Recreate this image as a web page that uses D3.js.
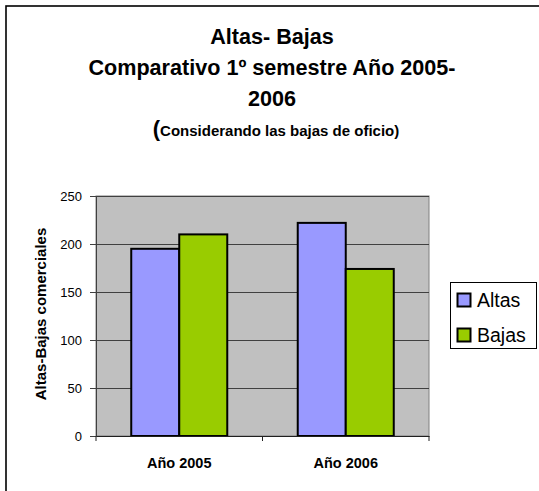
<!DOCTYPE html>
<html>
<head>
<meta charset="utf-8">
<script src="https://cdn.jsdelivr.net/npm/d3@7/dist/d3.min.js"></script>
<style>
  body { margin: 0; background: #fff; }
  text { font-family: Arial, "Liberation Sans", sans-serif; }
</style>
</head>
<body>
<script>
const categories = ["Año 2005", "Año 2006"];
const seriesNames = ["Altas", "Bajas"];
const altas = [195, 222];
const bajas = [210, 174];
const yTicks = [0, 50, 100, 150, 200, 250];
const titleLines = ["Altas- Bajas", "Comparativo 1º semestre Año 2005-", "2006"];
const subtitle = "Considerando las bajas de oficio)";
const yTitle = "Altas-Bajas comerciales";

const width = 539;
const height = 491;
const colors = { Altas: "#9999ff", Bajas: "#99cc00" };

const data = categories.map((c, i) => ({ cat: c, Altas: altas[i], Bajas: bajas[i] }));

const svg = d3.select("body").append("svg")
  .attr("width", width)
  .attr("height", height);

// outer frame (cut off on the right and bottom)
svg.append("rect")
  .attr("x", 6).attr("y", 6)
  .attr("width", 700).attr("height", 700)
  .attr("fill", "none")
  .attr("stroke", "#000")
  .attr("stroke-width", 1.6);

// titles
const titleY = [44, 75, 106];
svg.selectAll(".title")
  .data(titleLines)
  .enter().append("text")
  .attr("class", "title")
  .attr("x", 272)
  .attr("y", (d, i) => titleY[i])
  .attr("text-anchor", "middle")
  .style("font-size", "21.6px")
  .style("font-weight", "bold")
  .text(d => d);

const sub = svg.append("text")
  .attr("x", 276)
  .attr("y", 136)
  .attr("text-anchor", "middle")
  .style("font-weight", "bold");
sub.append("tspan").style("font-size", "22px").text("(");
sub.append("tspan").style("font-size", "15px").text(subtitle);

// scales
const plot = { left: 96, right: 429, top: 196, bottom: 436 };

const x0 = d3.scaleBand()
  .domain(categories)
  .range([plot.left, plot.right])
  .padding(0);

const x1 = d3.scaleBand()
  .domain(seriesNames)
  .range([0, x0.bandwidth()])
  .paddingInner(0)
  .paddingOuter(0.734);

const y = d3.scaleLinear()
  .domain([0, 250])
  .range([plot.bottom, plot.top]);

// plot area
svg.append("rect")
  .attr("x", plot.left).attr("y", plot.top)
  .attr("width", plot.right - plot.left)
  .attr("height", plot.bottom - plot.top)
  .attr("fill", "#c0c0c0")
  .attr("stroke", "#808080")
  .attr("stroke-width", 1);

// gridlines
svg.append("g")
  .selectAll("line")
  .data(yTicks.filter(t => t > 0))
  .enter().append("line")
  .attr("x1", plot.left).attr("x2", plot.right)
  .attr("y1", d => y(d) + 0.5).attr("y2", d => y(d) + 0.5)
  .attr("stroke", "#404040")
  .attr("stroke-width", 1);

// bars
const groups = svg.append("g")
  .selectAll("g")
  .data(data)
  .enter().append("g")
  .attr("transform", d => `translate(${x0(d.cat)},0)`);

groups.selectAll("rect")
  .data(d => seriesNames.map(s => ({ s: s, v: d[s] })))
  .enter().append("rect")
  .attr("x", d => x1(d.s))
  .attr("y", d => y(d.v))
  .attr("width", x1.bandwidth())
  .attr("height", d => y(0) - y(d.v))
  .attr("fill", d => colors[d.s])
  .attr("stroke", "#000")
  .attr("stroke-width", 2);

// y axis
const yAxis = svg.append("g")
  .attr("transform", `translate(${plot.left},0)`)
  .call(d3.axisLeft(y).tickValues(yTicks).tickSize(6).tickPadding(8));
yAxis.select(".domain").attr("stroke", "#404040");
yAxis.selectAll(".tick line").attr("stroke", "#404040");
yAxis.selectAll("text")
  .style("font-size", "13px")
  .style("font-family", "Arial, 'Liberation Sans', sans-serif")
  .attr("fill", "#000");

// x axis
const xAxis = svg.append("g")
  .attr("transform", `translate(0,${plot.bottom})`)
  .call(d3.axisBottom(x0).tickSize(0).tickPadding(22));
xAxis.select(".domain").attr("stroke", "#202020");
xAxis.selectAll("text")
  .style("font-size", "14.5px")
  .style("font-weight", "bold")
  .style("font-family", "Arial, 'Liberation Sans', sans-serif")
  .attr("fill", "#000");

// category boundary ticks
svg.append("g")
  .selectAll("line")
  .data([categories[0], categories[1], null])
  .enter().append("line")
  .attr("x1", d => d === null ? plot.right : x0(d))
  .attr("x2", d => d === null ? plot.right : x0(d))
  .attr("y1", plot.bottom)
  .attr("y2", plot.bottom + 5)
  .attr("stroke", "#202020");

// y title
svg.append("text")
  .attr("transform", "translate(46,314) rotate(-90)")
  .attr("text-anchor", "middle")
  .style("font-size", "15px")
  .style("font-weight", "bold")
  .text(yTitle);

// legend
const legend = svg.append("g");
legend.append("rect")
  .attr("x", 450.5).attr("y", 282.5)
  .attr("width", 86).attr("height", 66)
  .attr("fill", "#fff")
  .attr("stroke", "#000")
  .attr("stroke-width", 1);

const legendY = d3.scalePoint()
  .domain(seriesNames)
  .range([300, 335]);

legend.selectAll(".sw")
  .data(seriesNames)
  .enter().append("rect")
  .attr("x", 457.5)
  .attr("y", d => legendY(d) - 6.5)
  .attr("width", 13).attr("height", 13)
  .attr("fill", d => colors[d])
  .attr("stroke", "#000")
  .attr("stroke-width", 2);

legend.selectAll(".lt")
  .data(seriesNames)
  .enter().append("text")
  .attr("x", 477)
  .attr("y", d => legendY(d) + 7)
  .style("font-size", "19.5px")
  .text(d => d);
</script>
</body>
</html>
